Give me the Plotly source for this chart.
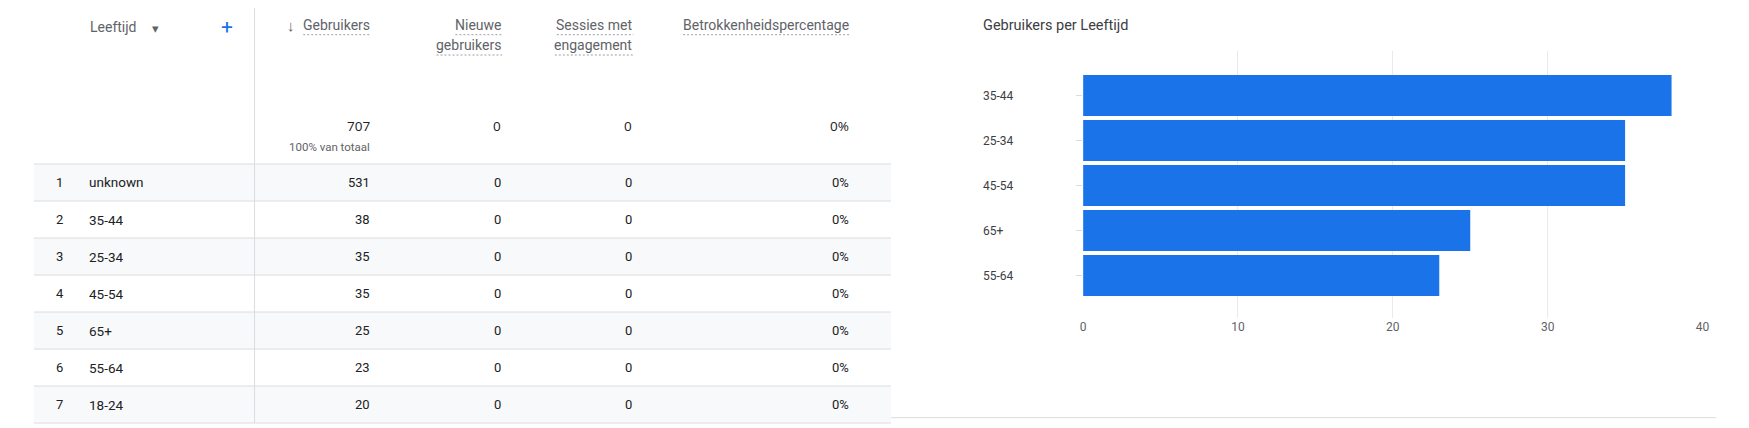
import plotly.graph_objects as go

W, H = 1749, 428

# ---------------- data ----------------
rank = [1, 2, 3, 4, 5, 6, 7]
leeftijd = ["unknown", "35-44", "25-34", "45-54", "65+", "55-64", "18-24"]
gebruikers = [531, 38, 35, 35, 25, 23, 20]
nieuwe_gebruikers = [0, 0, 0, 0, 0, 0, 0]
sessies_engagement = [0, 0, 0, 0, 0, 0, 0]
betrokkenheid = [0, 0, 0, 0, 0, 0, 0]  # percent

total_gebruikers = 707
total_nieuwe = 0
total_sessies = 0
total_betrokkenheid = 0
total_note = "100% van totaal"

chart_title = "Gebruikers per Leeftijd"
chart_cats = ["35-44", "25-34", "45-54", "65+", "55-64"]
chart_vals = [38, 35, 35, 25, 23]
x_ticks = [0, 10, 20, 30, 40]


def X(p):
    return p / W


def Y(p):
    return 1 - p / H


FONT = "Roboto"
GRAY = "#5f6368"
DARK = "#202124"
LINE = "#dadce0"
BLUE = "#1a73e8"

fig = go.Figure()
fig.add_trace(go.Bar(
    x=chart_vals, y=chart_cats, orientation="h",
    marker=dict(color=BLUE, line=dict(width=0)), hoverinfo="skip",
))

shapes = []
ann = []

# ---------------- table ----------------
ROW0 = 164
RH = 37
TL, TR = 31, 893
# stripes
for i in range(len(rank)):
    if i % 2 == 0:
        shapes.append(dict(type="rect", xref="paper", yref="paper",
                           x0=X(TL), x1=X(TR), y0=Y(ROW0 + (i + 1) * RH), y1=Y(ROW0 + i * RH),
                           fillcolor="#f8f9fa", line=dict(width=0), layer="below"))
# horizontal lines
for i in range(len(rank) + 1):
    yy = ROW0 + i * RH
    shapes.append(dict(type="line", xref="paper", yref="paper",
                       x0=X(TL), x1=X(TR), y0=Y(yy), y1=Y(yy),
                       line=dict(color=LINE, width=1)))
# vertical divider
shapes.append(dict(type="line", xref="paper", yref="paper",
                   x0=X(253), x1=X(253), y0=Y(8), y1=Y(ROW0 + len(rank) * RH),
                   line=dict(color=LINE, width=1)))
# chart bottom separator
shapes.append(dict(type="line", xref="paper", yref="paper",
                   x0=X(893), x1=X(1723), y0=Y(417.7), y1=Y(417.7),
                   line=dict(color=LINE, width=1)))


def text(x, y, s, anchor="left", size=13, color=DARK, family=FONT):
    ann.append(dict(x=X(x), y=Y(y), xref="paper", yref="paper", text=s,
                    showarrow=False, xanchor=anchor, yanchor="middle",
                    font=dict(family=family, size=size, color=color)))


def underline(x0, x1, y):
    shapes.append(dict(type="line", xref="paper", yref="paper",
                       x0=X(x0), x1=X(x1), y0=Y(y), y1=Y(y),
                       line=dict(color="#9aa0a6", width=1, dash="2px,2px")))


# headers
text(85, 27, "Leeftijd", size=14, color=GRAY)
text(153, 28, "▾", anchor="center", size=13, color=GRAY)
text(225, 27, "+", anchor="center", size=21, color=BLUE)
text(290, 26, "↓", anchor="center", size=15, color=GRAY)
text(371, 25, "Gebruikers", anchor="right", size=14, color=GRAY)
underline(302, 370, 34.7)
text(503, 25, "Nieuwe", anchor="right", size=14, color=GRAY)
underline(455, 502, 34.7)
text(503, 45, "gebruikers", anchor="right", size=14, color=GRAY)
underline(436, 502, 55)
text(635, 25, "Sessies met", anchor="right", size=14, color=GRAY)
underline(557, 634, 34.7)
text(635, 45, "engagement", anchor="right", size=14, color=GRAY)
underline(555, 634, 55)
text(853, 25, "Betrokkenheidspercentage", anchor="right", size=14, color=GRAY)
underline(684, 852, 34.7)

# totals
text(371, 126, f"{total_gebruikers}", anchor="right", size=13.5, color=DARK, family="Open Sans")
text(371, 147, total_note, anchor="right", size=11.5, color=GRAY)
text(503, 126, f"{total_nieuwe}", anchor="right", size=13.5, color=DARK, family="Open Sans")
text(635, 126, f"{total_sessies}", anchor="right", size=13.5, color=DARK, family="Open Sans")
text(853, 126, f"{total_betrokkenheid}%", anchor="right", size=13.5, color=DARK, family="Open Sans")

# rows
for i in range(len(rank)):
    yc = ROW0 + i * RH + RH / 2
    text(57, yc, f"{rank[i]}", anchor="center", size=13)
    text(84, yc, leeftijd[i], anchor="left", size=13.5)
    text(371, yc, f"{gebruikers[i]}", anchor="right", size=13)
    text(503, yc, f"{nieuwe_gebruikers[i]}", anchor="right", size=13)
    text(635, yc, f"{sessies_engagement[i]}", anchor="right", size=13)
    text(853, yc, f"{betrokkenheid[i]}%", anchor="right", size=13)

# ---------------- chart ----------------
text(984, 25.5, chart_title, anchor="left", size=14.5, color="#3c4043")
for c in chart_cats:
    ann.append(dict(x=X(984), y=c, xref="paper", yref="y", text=c, showarrow=False,
                    xanchor="left", yanchor="middle",
                    font=dict(family=FONT, size=12, color="#3c4043")))

fig.update_layout(
    width=W, height=H, margin=dict(l=0, r=0, t=0, b=0),
    paper_bgcolor="white", plot_bgcolor="white",
    bargap=0.09, showlegend=False,
    font=dict(family=FONT),
    xaxis=dict(domain=[X(1086.3), X(1709.3)], range=[0, 40], tickvals=x_ticks,
               showgrid=True, gridcolor="#e8eaed", gridwidth=1, zeroline=False,
               showline=False, ticks="", fixedrange=True,
               tickfont=dict(family=FONT, size=12, color=GRAY)),
    yaxis=dict(domain=[Y(318), Y(50.7)], type="category", categoryorder="array",
               categoryarray=chart_cats, range=[4.944, -0.996],
               showticklabels=False, ticks="outside", ticklen=6, tickcolor=LINE,
               showgrid=False, zeroline=False, showline=False, fixedrange=True),
    shapes=shapes, annotations=ann,
)

fig.write_html("out.html")
